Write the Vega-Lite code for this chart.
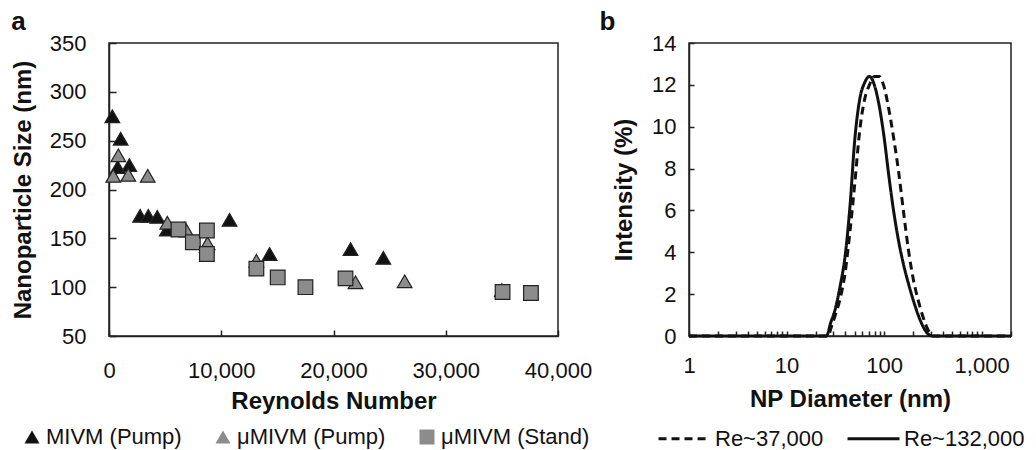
{
  "$schema": "https://vega.github.io/schema/vega-lite/v6.json",
  "padding": {"left": 10, "top": 8, "right": 0, "bottom": 0},
  "config": {
    "font": "Liberation Sans",
    "view": {"stroke": "#222", "strokeWidth": 1.5},
    "axis": {"grid": false, "labelFlush": false, "domainColor": "#222", "domainWidth": 1.5, "tickColor": "#222", "tickWidth": 1.5, "labelFontSize": 22, "labelColor": "#111", "titleFontSize": 24, "titleFontWeight": "bold", "titleColor": "#111", "labelFont": "Liberation Sans", "titleFont": "Liberation Sans"},
    "legend": {"labelFontSize": 22, "labelColor": "#111", "labelLimit": 300, "labelFont": "Liberation Sans"}
  },
  "datasets": {
    "np": [
      {"re": 300, "size": 275, "method": "MIVM (Pump)"},
      {"re": 1040, "size": 252, "method": "MIVM (Pump)"},
      {"re": 770, "size": 223, "method": "MIVM (Pump)"},
      {"re": 1810, "size": 225, "method": "MIVM (Pump)"},
      {"re": 2770, "size": 173, "method": "MIVM (Pump)"},
      {"re": 3500, "size": 173, "method": "MIVM (Pump)"},
      {"re": 4300, "size": 172, "method": "MIVM (Pump)"},
      {"re": 5150, "size": 159, "method": "MIVM (Pump)"},
      {"re": 6700, "size": 160, "method": "MIVM (Pump)"},
      {"re": 8700, "size": 142, "method": "MIVM (Pump)"},
      {"re": 10740, "size": 169, "method": "MIVM (Pump)"},
      {"re": 14310, "size": 134, "method": "MIVM (Pump)"},
      {"re": 21520, "size": 139, "method": "MIVM (Pump)"},
      {"re": 24440, "size": 130, "method": "MIVM (Pump)"},
      {"re": 35000, "size": 97, "method": "MIVM (Pump)"},
      {"re": 380, "size": 214, "method": "μMIVM (Pump)"},
      {"re": 830, "size": 235, "method": "μMIVM (Pump)"},
      {"re": 1720, "size": 215, "method": "μMIVM (Pump)"},
      {"re": 3450, "size": 214, "method": "μMIVM (Pump)"},
      {"re": 5200, "size": 166, "method": "μMIVM (Pump)"},
      {"re": 6900, "size": 158, "method": "μMIVM (Pump)"},
      {"re": 8780, "size": 145, "method": "μMIVM (Pump)"},
      {"re": 13130, "size": 127, "method": "μMIVM (Pump)"},
      {"re": 21960, "size": 105, "method": "μMIVM (Pump)"},
      {"re": 26340, "size": 106, "method": "μMIVM (Pump)"},
      {"re": 6190, "size": 159, "method": "μMIVM (Stand)"},
      {"re": 7470, "size": 146, "method": "μMIVM (Stand)"},
      {"re": 8720, "size": 158, "method": "μMIVM (Stand)"},
      {"re": 8720, "size": 134, "method": "μMIVM (Stand)"},
      {"re": 13130, "size": 119, "method": "μMIVM (Stand)"},
      {"re": 15030, "size": 110, "method": "μMIVM (Stand)"},
      {"re": 17500, "size": 100, "method": "μMIVM (Stand)"},
      {"re": 21070, "size": 109, "method": "μMIVM (Stand)"},
      {"re": 35060, "size": 95, "method": "μMIVM (Stand)"},
      {"re": 37590, "size": 94, "method": "μMIVM (Stand)"}
    ],
    "dls": [
      {"d": 1, "intensity": 0, "series": "Re~37,000"},
      {"d": 26.9, "intensity": 0, "series": "Re~37,000"},
      {"d": 28.2, "intensity": 0.3, "series": "Re~37,000"},
      {"d": 31.6, "intensity": 1.0, "series": "Re~37,000"},
      {"d": 35.5, "intensity": 1.8, "series": "Re~37,000"},
      {"d": 39.8, "intensity": 3.0, "series": "Re~37,000"},
      {"d": 44.7, "intensity": 5.0, "series": "Re~37,000"},
      {"d": 50.1, "intensity": 7.3, "series": "Re~37,000"},
      {"d": 56.2, "intensity": 9.8, "series": "Re~37,000"},
      {"d": 63.1, "intensity": 11.3, "series": "Re~37,000"},
      {"d": 70.8, "intensity": 12.0, "series": "Re~37,000"},
      {"d": 79.4, "intensity": 12.4, "series": "Re~37,000"},
      {"d": 89.1, "intensity": 12.4, "series": "Re~37,000"},
      {"d": 100, "intensity": 11.9, "series": "Re~37,000"},
      {"d": 112.2, "intensity": 10.8, "series": "Re~37,000"},
      {"d": 125.9, "intensity": 9.4, "series": "Re~37,000"},
      {"d": 141.3, "intensity": 7.8, "series": "Re~37,000"},
      {"d": 158.5, "intensity": 5.9, "series": "Re~37,000"},
      {"d": 177.8, "intensity": 4.1, "series": "Re~37,000"},
      {"d": 199.5, "intensity": 2.7, "series": "Re~37,000"},
      {"d": 223.9, "intensity": 1.7, "series": "Re~37,000"},
      {"d": 251.2, "intensity": 0.9, "series": "Re~37,000"},
      {"d": 281.8, "intensity": 0.3, "series": "Re~37,000"},
      {"d": 316.2, "intensity": 0, "series": "Re~37,000"},
      {"d": 2000, "intensity": 0, "series": "Re~37,000"},
      {"d": 1, "intensity": 0, "series": "Re~132,000"},
      {"d": 25.7, "intensity": 0, "series": "Re~132,000"},
      {"d": 28.2, "intensity": 0.6, "series": "Re~132,000"},
      {"d": 31.6, "intensity": 1.3, "series": "Re~132,000"},
      {"d": 35.5, "intensity": 2.4, "series": "Re~132,000"},
      {"d": 39.8, "intensity": 3.8, "series": "Re~132,000"},
      {"d": 44.7, "intensity": 6.2, "series": "Re~132,000"},
      {"d": 50.1, "intensity": 9.4, "series": "Re~132,000"},
      {"d": 56.2, "intensity": 11.3, "series": "Re~132,000"},
      {"d": 63.1, "intensity": 12.1, "series": "Re~132,000"},
      {"d": 70.8, "intensity": 12.4, "series": "Re~132,000"},
      {"d": 79.4, "intensity": 12.0, "series": "Re~132,000"},
      {"d": 89.1, "intensity": 11.0, "series": "Re~132,000"},
      {"d": 100, "intensity": 9.5, "series": "Re~132,000"},
      {"d": 112.2, "intensity": 7.6, "series": "Re~132,000"},
      {"d": 125.9, "intensity": 5.9, "series": "Re~132,000"},
      {"d": 141.3, "intensity": 4.5, "series": "Re~132,000"},
      {"d": 158.5, "intensity": 3.4, "series": "Re~132,000"},
      {"d": 177.8, "intensity": 2.5, "series": "Re~132,000"},
      {"d": 199.5, "intensity": 1.7, "series": "Re~132,000"},
      {"d": 223.9, "intensity": 1.0, "series": "Re~132,000"},
      {"d": 251.2, "intensity": 0.45, "series": "Re~132,000"},
      {"d": 281.8, "intensity": 0.1, "series": "Re~132,000"},
      {"d": 316.2, "intensity": 0, "series": "Re~132,000"},
      {"d": 2000, "intensity": 0, "series": "Re~132,000"}
    ]
  },
  "hconcat": [
    {
      "width": 449,
      "height": 293,
      "title": {"text": "a", "anchor": "start", "frame": "bounds", "fontSize": 26, "fontWeight": "bold", "color": "#111", "offset": -3},
      "data": {"name": "np"},
      "mark": {"type": "point", "filled": true, "size": 215, "opacity": 1, "stroke": "#222", "strokeWidth": 1.2},
      "encoding": {
        "x": {"field": "re", "type": "quantitative", "title": "Reynolds Number",
              "scale": {"domain": [0, 40000], "nice": false},
              "axis": {"values": [0, 10000, 20000, 30000, 40000], "format": ",.0f", "tickSize": -6, "labelPadding": 30, "titlePadding": 8}},
        "y": {"field": "size", "type": "quantitative", "title": "Nanoparticle Size (nm)",
              "scale": {"domain": [50, 350], "nice": false, "zero": false},
              "axis": {"values": [50, 100, 150, 200, 250, 300, 350], "tickSize": -7, "labelPadding": 30, "titlePadding": 14}},
        "fill": {"field": "method", "type": "nominal",
                 "scale": {"domain": ["MIVM (Pump)", "μMIVM (Pump)", "μMIVM (Stand)"], "range": ["#111111", "#8c8c8c", "#8c8c8c"]},
                 "legend": {"orient": "none", "legendX": -88, "legendY": 383, "direction": "horizontal", "title": null, "symbolSize": 225, "symbolStrokeColor": "#222", "symbolStrokeWidth": 1, "labelOffset": 3, "columnPadding": 30}},
        "shape": {"field": "method", "type": "nominal",
                  "scale": {"domain": ["MIVM (Pump)", "μMIVM (Pump)", "μMIVM (Stand)"], "range": ["triangle-up", "triangle-up", "square"]},
                  "legend": {"orient": "none", "legendX": -88, "legendY": 383, "direction": "horizontal", "title": null, "symbolSize": 225, "symbolStrokeColor": "#222", "symbolStrokeWidth": 1, "labelOffset": 3, "columnPadding": 30}}
      }
    },
    {
      "width": 322,
      "height": 293,
      "title": {"text": "b", "anchor": "start", "frame": "bounds", "fontSize": 26, "fontWeight": "bold", "color": "#111", "offset": -3, "dx": -13},
      "data": {"name": "dls"},
      "mark": {"type": "line", "interpolate": "monotone", "color": "#111", "strokeWidth": 3},
      "encoding": {
        "x": {"field": "d", "type": "quantitative", "title": "NP Diameter (nm)",
              "scale": {"type": "log", "domain": [1, 2000], "nice": false},
              "axis": {"values": [1, 2, 3, 4, 5, 6, 7, 8, 9, 10, 20, 30, 40, 50, 60, 70, 80, 90, 100, 200, 300, 400, 500, 600, 700, 800, 900, 1000, 2000],
                       "labelExpr": "indexof([1, 10, 100, 1000], datum.value) >= 0 ? format(datum.value, ',') : ''",
                       "tickSize": -5, "labelPadding": 24, "titlePadding": 11, "labelOverlap": false}},
        "y": {"field": "intensity", "type": "quantitative", "title": "Intensity (%)",
              "scale": {"domain": [0, 14], "nice": false},
              "axis": {"values": [0, 2, 4, 6, 8, 10, 12, 14], "tickSize": -5, "labelPadding": 18, "titlePadding": 15}},
        "strokeDash": {"field": "series", "type": "nominal",
                       "scale": {"domain": ["Re~37,000", "Re~132,000"], "range": [[8, 5], [1, 0]]},
                       "legend": {"orient": "none", "legendX": -32, "legendY": 368, "direction": "horizontal", "title": null, "symbolType": "stroke", "symbolSize": 2700, "symbolStrokeWidth": 3, "symbolStrokeColor": "#111", "labelOffset": 3, "columnPadding": 17}}
      }
    }
  ],
  "spacing": 131,
  "bounds": "flush",
  "resolve": {"scale": {"x": "independent", "y": "independent", "fill": "independent", "shape": "independent", "strokeDash": "independent"}, "legend": {"fill": "independent", "shape": "independent", "strokeDash": "independent"}}
}
